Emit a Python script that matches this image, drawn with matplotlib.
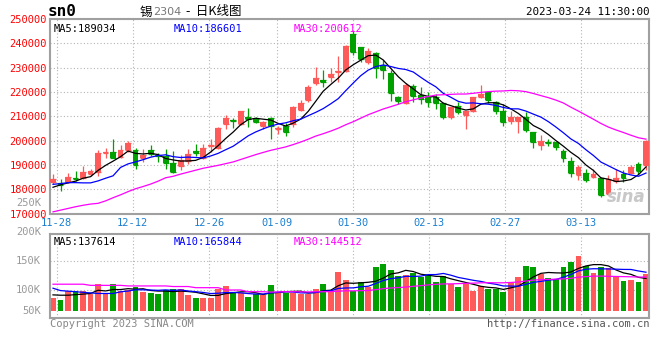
import numpy as np
import pandas as pd
import matplotlib
matplotlib.use("Agg")
import matplotlib.pyplot as plt

# daily K data (price in yuan, volume in lots)
opens = [183100, 182800, 182900, 184800, 184500, 186300, 187000, 195100, 195200, 193500,
         196300, 196300, 192900, 196400, 194300, 193700, 190700, 189500, 191500, 195800,
         193000, 197800, 197000, 206800, 208600, 206800, 209900, 209100, 206200, 209400,
         204700, 206000, 207000, 212600, 216600, 223900, 224900, 226000, 228200, 228600,
         243900, 238400, 232500, 236000, 231300, 228000, 218000, 215500, 222600, 218900,
         218100, 218100, 215400, 209700, 214400, 210700, 212400, 217800, 219900, 216000,
         212100, 208000, 208300, 209900, 203400, 198400, 199400, 199400, 195800, 191600,
         185800, 186900, 185200, 184700, 178100, 183500, 186200, 186800, 190300, 189900]
closes = [184400, 182000, 185200, 184400, 187100, 187500, 194900, 195500, 193100, 196300,
          199000, 190200, 194300, 194500, 193600, 191000, 187200, 192000, 194700, 194800,
          197000, 198300, 205100, 209400, 208000, 212100, 208800, 207900, 207500, 206200,
          205200, 203500, 213800, 215700, 222200, 225800, 224300, 227500, 228700, 239000,
          236600, 233700, 236700, 229900, 228900, 219500, 216500, 223000, 218500, 217100,
          216000, 215400, 209900, 213700, 212000, 212100, 217800, 219400, 216700, 212100,
          207600, 209700, 209900, 204600, 199400, 199900, 199000, 197400, 193000, 186800,
          189200, 183800, 186200, 177700, 184100, 184500, 184900, 189200, 187600, 200100]
highs = [186200, 184400, 186800, 187500, 189800, 188600, 196200, 197100, 200900, 198100,
         200100, 197100, 196500, 198400, 195100, 196500, 195800, 194000, 196700, 198500,
         198700, 200800, 205600, 210700, 209400, 212400, 213500, 209900, 208300, 209600,
         206200, 207300, 214400, 216600, 223100, 230400, 229000, 229800, 235000, 239300,
         244900, 238700, 238000, 236600, 233300, 229000, 218500, 223600, 223300, 222200,
         219900, 219400, 215800, 214000, 215800, 212400, 218100, 223000, 220500, 216500,
         215100, 212100, 209900, 211700, 203500, 202200, 200800, 199400, 196700, 193300,
         189900, 188600, 188600, 185200, 185800, 188600, 187900, 189900, 191300, 200400]
lows = [182300, 179400, 182600, 183600, 184300, 185500, 185600, 193100, 192900, 192900,
        195400, 188600, 191100, 193700, 191300, 188300, 186800, 187900, 190600, 193700,
        192600, 195400, 196700, 204900, 205300, 206500, 205600, 207300, 204900, 200800,
        202800, 201900, 205800, 212100, 215800, 223100, 222000, 224000, 224300, 228200,
        235200, 232300, 231500, 225900, 225500, 216200, 215000, 215100, 215800, 215100,
        213700, 213100, 209000, 209000, 211000, 204900, 211700, 217500, 215400, 211000,
        206200, 206900, 203100, 203500, 197000, 196300, 197700, 196300, 191300, 185200,
        183800, 183100, 184900, 177000, 177700, 182700, 183100, 186200, 186200, 187900]
volumes = [86800, 82800, 98300, 98300, 98300, 92500, 110300, 92500, 110300, 98300,
           100000, 105700, 96500, 95400, 93100, 100000, 101100, 101100, 91400, 86800,
           86800, 86800, 101700, 106900, 94300, 94300, 88500, 92500, 91400, 108600,
           97100, 95400, 95400, 93100, 93100, 101700, 110300, 100000, 131600, 117200,
           98800, 114400, 104600, 140200, 144800, 134500, 124100, 125900, 129900, 121800,
           125900, 114400, 124100, 110300, 105700, 110300, 98800, 106900, 101100, 101100,
           97100, 112600, 121800, 141400, 140200, 127600, 120100, 118400, 140200, 148900,
           158600, 141400, 129900, 140200, 137400, 124100, 116100, 117200, 114400, 127600]

# moving-average values at the left edge (need history that is off the chart)
ma5_head = [180900, 181900, 182700, 183400]
ma10_head = [182100, 182400, 182800, 182800, 182700, 182700, 183500, 184600, 185600]
ma30_head = [170800, 171500, 172200, 172900, 173500, 174000, 174300, 175300, 176600, 177800,
             179100, 180300, 181200, 182200, 183400, 184800, 185400, 186300, 187100, 187900,
             188700, 189300, 189900, 190600, 191300, 192300, 193300, 194300, 195200]
vma5_head = [91600, 91000, 91000, 92000]
vma10_head = [103100, 99000, 98000, 97000, 96000, 95000, 94000, 94000, 94000]
vma30_head = [110000, 110000, 110000, 110000, 110000, 108000, 108000, 108000, 108000, 108000,
              107000, 107000, 107000, 107000, 107000, 107000, 106000, 106000, 106000, 104000,
              104000, 104000, 104000, 100000, 100000, 100000, 97000, 97000, 97000]

date_labels = ["11-28", "12-12", "12-26", "01-09", "01-30", "02-13", "02-27", "03-13"]
date_pos = [0.5, 10.6, 20.8, 29.8, 40.0, 50.1, 60.2, 70.3]
price_ticks = [170000, 180000, 190000, 200000, 210000, 220000, 230000, 240000, 250000]
vol_ticks = [50000, 100000, 150000, 200000, 250000]
vol_tick_labels = ["50K", "100K", "150K", "200K", "250K"]
vol_base = 63800


def moving_avg(values, n, head):
    ma = pd.Series(values, dtype=float).rolling(n).mean().to_numpy()
    ma[:len(head)] = head
    return ma


RED = "#ff5a5a"
GREEN = "#00a000"
FRAME = "#a0a0a0"
GRID = "#b4b4b4"
MONO = "DejaVu Sans Mono"
CJK = ["Noto Sans CJK SC", "DejaVu Sans"]

o = np.array(opens)
c = np.array(closes)
h = np.array(highs)
l = np.array(lows)
v = np.array(volumes)
x = np.arange(len(o))
up = c >= o
cols = np.where(up, RED, GREEN)

fig = plt.figure(figsize=(6.6, 3.6), dpi=100)
ax = fig.add_axes([50 / 660, 1 - 213.8 / 360, 599 / 660, 194.8 / 360])
axv = fig.add_axes([50 / 660, 1 - 318 / 360, 599 / 660, 84 / 360])

for a in (ax, axv):
    a.set_xlim(-0.4, 79.4)
    for s in a.spines.values():
        s.set_color(FRAME)
        s.set_linewidth(1.5)
    a.tick_params(length=0, pad=2)
    a.set_xticks(date_pos)
    a.grid(True, color=GRID, linestyle=(0, (1, 2)), linewidth=0.8)
    a.set_axisbelow(True)

# candles
ax.vlines(x, l, h, colors=cols, linewidth=0.9, zorder=2)
ax.bar(x, np.abs(c - o), bottom=np.minimum(o, c), width=0.78, color=cols, linewidth=0, zorder=3)
ax.hlines(np.minimum(o, c), x - 0.39, x + 0.39, colors=cols, linewidth=0.9, zorder=3)
ax.hlines(np.maximum(o, c), x - 0.39, x + 0.39, colors=cols, linewidth=0.9, zorder=3)

ax.plot(x, moving_avg(c, 5, ma5_head), color="black", lw=0.9, zorder=4)
ax.plot(x, moving_avg(c, 10, ma10_head), color="#0000ff", lw=0.9, zorder=4)
ax.plot(x, moving_avg(c, 30, ma30_head), color="#ff00ff", lw=0.9, zorder=4)

ax.set_ylim(170000, 249500)
ax.set_yticks(price_ticks)
ax.set_yticklabels([str(t) for t in price_ticks], color="#ff0000", family=MONO, fontsize=7.5)
ax.set_xticklabels(date_labels, color="#1a7fd0", family=MONO, fontsize=7.5)
ax.tick_params(axis="x", pad=3)

# volume
axv.bar(x, v - vol_base, bottom=vol_base, width=0.78, color=cols, linewidth=0)
axv.plot(x, moving_avg(v, 5, vma5_head), color="black", lw=0.9)
axv.plot(x, moving_avg(v, 10, vma10_head), color="#0000ff", lw=0.9)
axv.plot(x, moving_avg(v, 30, vma30_head), color="#ff00ff", lw=0.9)
axv.set_ylim(51700, 196600)
axv.set_yticks([100000, 150000])
axv.set_yticklabels([])
axv.set_xticklabels([])
for t, lab in zip(vol_ticks, vol_tick_labels):
    yy = min(max(t, 63000), 260000)
    axv.text(-0.015, yy, lab, transform=axv.get_yaxis_transform(), ha="right", va="center",
             color="#999999", family=MONO, fontsize=7.5, clip_on=False)

# header texts
fig.text(48 / 660, 1 - 12 / 360, "sn0", fontsize=11.5, fontweight="bold", family=MONO, va="center")
fig.text(140 / 660, 1 - 12 / 360, "锡", fontsize=9, family=CJK, va="center")
fig.text(153 / 660, 1 - 12 / 360, "2304", fontsize=8, family="DejaVu Sans", color="#777777",
         va="center")
fig.text(186 / 660, 1 - 12 / 360, "-  日K线图", fontsize=9, family=CJK, va="center")
fig.text(649 / 660, 1 - 12 / 360, "2023-03-24 11:30:00", fontsize=7.8, family=MONO,
         va="center", ha="right")
ax.text(0.006, 0.975, "MA5:189034", transform=ax.transAxes, color="black", family=MONO,
        fontsize=7.5, va="top")
ax.text(0.206, 0.975, "MA10:186601", transform=ax.transAxes, color="#0000ff", family=MONO,
        fontsize=7.5, va="top")
ax.text(0.406, 0.975, "MA30:200612", transform=ax.transAxes, color="#ff00ff", family=MONO,
        fontsize=7.5, va="top")
axv.text(0.006, 0.97, "MA5:137614", transform=axv.transAxes, color="black", family=MONO,
         fontsize=7.5, va="top")
axv.text(0.206, 0.97, "MA10:165844", transform=axv.transAxes, color="#0000ff", family=MONO,
         fontsize=7.5, va="top")
axv.text(0.406, 0.97, "MA30:144512", transform=axv.transAxes, color="#ff00ff", family=MONO,
         fontsize=7.5, va="top")
ax.text(0.995, 0.04, "sina", transform=ax.transAxes, color="#c8c8c8", fontsize=12,
        fontweight="bold", style="italic", ha="right", va="bottom", zorder=5)

fig.text(50 / 660, 1 - 324 / 360, "Copyright 2023 SINA.COM", color="#888888", family=MONO,
         fontsize=7.5, va="center")
fig.text(649 / 660, 1 - 324 / 360, "http://finance.sina.com.cn", color="#555555", family=MONO,
         fontsize=7.5, va="center", ha="right")

fig.savefig("out.png", dpi=100)
